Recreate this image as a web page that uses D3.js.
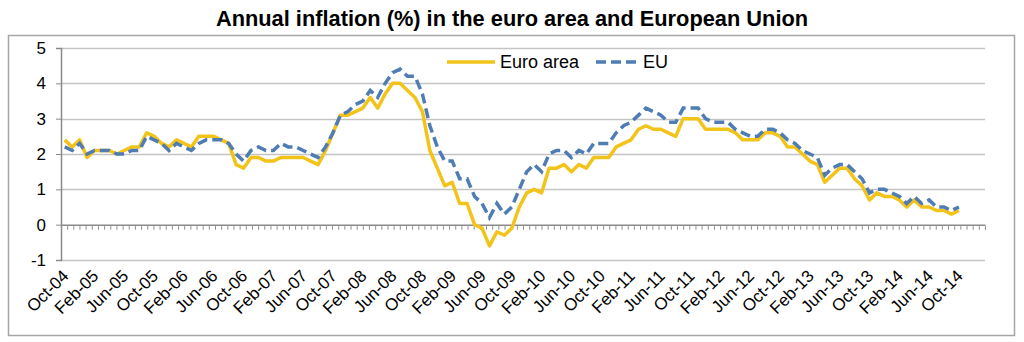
<!DOCTYPE html>
<html>
<head>
<meta charset="utf-8">
<script src="https://cdnjs.cloudflare.com/ajax/libs/d3/7.8.5/d3.min.js"></script>
<style>
  body { margin: 0; background: #fff; }
  text { font-family: "Liberation Sans", Arial, sans-serif; fill: #000; }
</style>
</head>
<body>
<div id="chart"></div>
<script>
// monthly annual rates of change, Oct-04 .. Oct-14
var months = ['Jan', 'Feb', 'Mar', 'Apr', 'May', 'Jun', 'Jul', 'Aug', 'Sep', 'Oct', 'Nov', 'Dec'];
var euroArea = [
  2.4, 2.2, 2.4,
  1.9, 2.1, 2.1, 2.1, 2.0, 2.1, 2.2, 2.2, 2.6, 2.5, 2.3, 2.2,
  2.4, 2.3, 2.2, 2.5, 2.5, 2.5, 2.4, 2.3, 1.7, 1.6, 1.9, 1.9,
  1.8, 1.8, 1.9, 1.9, 1.9, 1.9, 1.8, 1.7, 2.1, 2.6, 3.1, 3.1,
  3.2, 3.3, 3.6, 3.3, 3.7, 4.0, 4.0, 3.8, 3.6, 3.2, 2.1, 1.6,
  1.1, 1.2, 0.6, 0.6, 0.0, -0.1, -0.6, -0.2, -0.3, -0.1, 0.5, 0.9,
  1.0, 0.9, 1.6, 1.6, 1.7, 1.5, 1.7, 1.6, 1.9, 1.9, 1.9, 2.2,
  2.3, 2.4, 2.7, 2.8, 2.7, 2.7, 2.6, 2.5, 3.0, 3.0, 3.0, 2.7,
  2.7, 2.7, 2.7, 2.6, 2.4, 2.4, 2.4, 2.6, 2.6, 2.5, 2.2, 2.2,
  2.0, 1.8, 1.7, 1.2, 1.4, 1.6, 1.6, 1.3, 1.1, 0.7, 0.9, 0.8,
  0.8, 0.7, 0.5, 0.7, 0.5, 0.5, 0.4, 0.4, 0.3, 0.4
];
var eu = [
  2.2, 2.1, 2.3,
  2.0, 2.1, 2.1, 2.1, 2.0, 2.0, 2.1, 2.1, 2.5, 2.4, 2.3, 2.1,
  2.3, 2.2, 2.1, 2.3, 2.4, 2.4, 2.4, 2.3, 2.0, 1.8, 2.1, 2.2,
  2.1, 2.1, 2.3, 2.2, 2.2, 2.1, 2.0, 1.9, 2.2, 2.6, 3.1, 3.2,
  3.4, 3.5, 3.8, 3.6, 4.0, 4.3, 4.4, 4.2, 4.2, 3.7, 2.8, 2.2,
  1.8, 1.8, 1.3, 1.3, 0.8, 0.6, 0.2, 0.6, 0.3, 0.5, 1.0, 1.5,
  1.7, 1.5, 2.0, 2.1, 2.1, 1.9, 2.1, 2.0, 2.3, 2.3, 2.3, 2.6,
  2.8, 2.9, 3.1, 3.3, 3.2, 3.1, 2.9, 2.9, 3.3, 3.3, 3.3, 3.0,
  2.9, 2.9, 2.9, 2.7, 2.6, 2.5, 2.5, 2.7, 2.7, 2.6, 2.4, 2.3,
  2.1, 2.0, 1.9, 1.4, 1.6, 1.7, 1.7, 1.5, 1.3, 0.9, 1.0, 1.0,
  0.9, 0.8, 0.6, 0.8, 0.6, 0.7, 0.5, 0.5, 0.4, 0.5
];
var yTicks = [-1, 0, 1, 2, 3, 4, 5];
var nCategories = 124; // axis runs on to Jan-15
var nMinorTicks = 150;
var seriesNames = ['Euro area', 'EU'];

// category labels like "Oct-04"
var labels = euroArea.map(function(v, i) {
  var m = (9 + i) % 12, yr = 4 + Math.floor((9 + i) / 12);
  return months[m] + '-' + (yr < 10 ? '0' : '') + yr;
});

var W = 1024, H = 342;
var plot = {left: 61, right: 985, top: 48, bottom: 260};
var yellow = '#f2c318', blue = '#4f7db3';

var svg = d3.select('#chart').append('svg')
  .attr('width', W)
  .attr('height', H);

// outer frame
svg.append('rect')
  .attr('x', 8.5).attr('y', 35.5)
  .attr('width', 1006).attr('height', 300)
  .style('fill', 'none')
  .style('stroke', '#a6a6a6')
  .style('stroke-width', 1.5);

svg.append('text')
  .attr('x', 512).attr('y', 26)
  .attr('text-anchor', 'middle')
  .style('font-size', '21.8px')
  .style('font-weight', 'bold')
  .text('Annual inflation (%) in the euro area and European Union');

var x = d3.scaleLinear().domain([0, nCategories]).range([plot.left, plot.right]);
var xMinor = d3.scaleLinear().domain([0, nMinorTicks]).range([plot.left, plot.right]);
var y = d3.scaleLinear().domain([-1, 5]).range([plot.bottom, plot.top]);

// horizontal gridlines
svg.append('g')
  .selectAll('line')
  .data(yTicks.filter(function(d) { return d !== 0; }))
  .enter().append('line')
  .attr('x1', plot.left).attr('x2', plot.right)
  .attr('y1', function(d) { return Math.round(y(d)) + 0.5; })
  .attr('y2', function(d) { return Math.round(y(d)) + 0.5; })
  .style('stroke', '#c4c4c4')
  .style('stroke-width', 1.3);

// y axis
var yAxis = svg.append('g')
  .attr('transform', 'translate(' + plot.left + ',0)')
  .call(d3.axisLeft(y).tickValues(yTicks).tickSize(5).tickPadding(10).tickFormat(String));
yAxis.select('.domain').style('stroke', '#8a8a8a').style('stroke-width', 1.5);
yAxis.selectAll('.tick line').style('stroke', '#8a8a8a');
yAxis.selectAll('.tick text').style('font-size', '17px').style('font-family', '"Liberation Sans", Arial, sans-serif');

// zero line with small tick marks
var xAxis = svg.append('g')
  .attr('transform', 'translate(0,' + y(0) + ')')
  .call(d3.axisBottom(xMinor).tickValues(d3.range(nMinorTicks + 1)).tickSizeInner(5).tickSizeOuter(0).tickFormat(''));
xAxis.select('.domain').style('stroke', '#8a8a8a').style('stroke-width', 1.5);
xAxis.selectAll('.tick line').style('stroke', '#8a8a8a').attr('y1', 1.5);

// month labels every fourth category
svg.append('g')
  .selectAll('text')
  .data(labels.filter(function(d, i) { return i % 4 === 0; }))
  .enter().append('text')
  .attr('text-anchor', 'end')
  .attr('transform', function(d, k) {
    return 'translate(' + (x(k * 4 + 0.5) + 5) + ',277) rotate(-45)';
  })
  .style('font-size', '17px')
  .text(function(d) { return d; });

var line = d3.line()
  .x(function(d, i) { return x(i + 0.5); })
  .y(function(d) { return y(d); });

svg.append('path')
  .datum(euroArea)
  .attr('d', line)
  .style('fill', 'none')
  .style('stroke', yellow)
  .style('stroke-width', 3.5)
  .style('stroke-linejoin', 'round');

svg.append('path')
  .datum(eu)
  .attr('d', line)
  .style('fill', 'none')
  .style('stroke', blue)
  .style('stroke-width', 3.5)
  .style('stroke-dasharray', '10,5');

// legend
var legend = svg.append('g');
legend.append('line')
  .attr('x1', 447).attr('x2', 495).attr('y1', 62).attr('y2', 62)
  .style('stroke', yellow).style('stroke-width', 3.5);
legend.append('text')
  .attr('x', 500).attr('y', 68)
  .style('font-size', '18px')
  .text(seriesNames[0]);
legend.append('line')
  .attr('x1', 596).attr('x2', 638).attr('y1', 62).attr('y2', 62)
  .style('stroke', blue).style('stroke-width', 3.5)
  .style('stroke-dasharray', '10,5');
legend.append('text')
  .attr('x', 643).attr('y', 68)
  .style('font-size', '18px')
  .text(seriesNames[1]);
</script>
</body>
</html>
